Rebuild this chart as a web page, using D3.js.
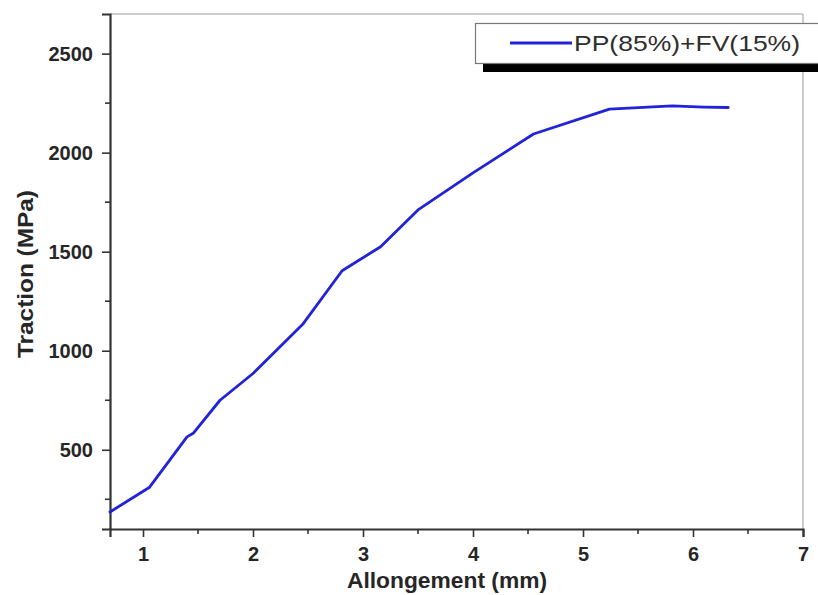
<!DOCTYPE html>
<html>
<head>
<meta charset="utf-8">
<script src="https://cdn.jsdelivr.net/npm/d3@7"></script>
<style>
html,body{margin:0;padding:0;background:#fff;}
svg{display:block;font-family:"Liberation Sans",Arial,sans-serif;}
</style>
</head>
<body>
<svg id="chart" width="818" height="595"></svg>
<script>
// Data
const elongation = [0.70, 1.06, 1.40, 1.46, 1.70, 2.00, 2.45, 2.81, 3.16, 3.50, 4.00, 4.55, 5.24, 5.81, 6.10, 6.32];
const traction   = [186, 311, 565, 585, 750, 885, 1132, 1404, 1525, 1711, 1898, 2094, 2220, 2236, 2230, 2228];
const xTicks = [1, 2, 3, 4, 5, 6, 7];
const yTicks = [500, 1000, 1500, 2000, 2500];
const seriesName = "PP(85%)+FV(15%)";
const xTitle = "Allongement (mm)";
const yTitle = "Traction (MPa)";

const svg = d3.select("#chart");
const L = 110, R = 803, T = 14, B = 529;
const x = d3.scaleLinear().domain([0.7, 7]).range([L, R]);
const y = d3.scaleLinear().domain([100, 2700]).range([B, T]);

// frame (top & right light)
svg.append("line").attr("x1", L).attr("x2", R).attr("y1", T).attr("y2", T)
  .attr("stroke", "#bdbdbd").attr("stroke-width", 1.5);
svg.append("line").attr("x1", R).attr("x2", R).attr("y1", T).attr("y2", B)
  .attr("stroke", "#bdbdbd").attr("stroke-width", 1.5);

// x axis
const xMinor = d3.range(1.5, 7, 1);
const gx = svg.append("g").attr("transform", `translate(0,${B})`);
gx.call(d3.axisBottom(x).tickValues(xTicks).tickSize(8).tickPadding(10).tickFormat(d3.format("d")));
gx.selectAll("text").attr("font-size", 20).attr("font-weight", "bold").attr("fill", "#262626")
  .attr("font-family", "'Liberation Sans',Arial,sans-serif");
gx.selectAll("line").attr("stroke", "#333").attr("stroke-width", 1.6);
gx.select(".domain").attr("stroke", "#333").attr("stroke-width", 2.2);
gx.selectAll(".minor").data(xMinor).enter().append("line").attr("class", "minor")
  .attr("x1", d => x(d)).attr("x2", d => x(d)).attr("y1", 0).attr("y2", 5)
  .attr("stroke", "#333").attr("stroke-width", 1.6);

// y axis
const yMinor = d3.range(250, 2700, 500);
const gy = svg.append("g").attr("transform", `translate(${L},0)`);
gy.call(d3.axisLeft(y).tickValues(yTicks).tickSize(8).tickPadding(9).tickFormat(d3.format("d")));
gy.selectAll("text").attr("font-size", 20).attr("font-weight", "bold").attr("fill", "#262626")
  .attr("font-family", "'Liberation Sans',Arial,sans-serif");
gy.selectAll("line").attr("stroke", "#333").attr("stroke-width", 1.6);
gy.select(".domain").attr("stroke", "#333").attr("stroke-width", 2.2);
gy.selectAll(".minor").data(yMinor).enter().append("line").attr("class", "minor")
  .attr("x1", 0).attr("x2", -5).attr("y1", d => y(d)).attr("y2", d => y(d))
  .attr("stroke", "#333").attr("stroke-width", 1.6);

// axis titles
svg.append("text").attr("x", 447).attr("y", 588).attr("text-anchor", "middle")
  .attr("font-size", 22).attr("font-weight", "bold").attr("fill", "#262626")
  .attr("textLength", 200).attr("lengthAdjust", "spacingAndGlyphs").text(xTitle);
svg.append("text").attr("transform", "translate(33,274) rotate(-90)").attr("text-anchor", "middle")
  .attr("font-size", 22).attr("font-weight", "bold").attr("fill", "#262626")
  .attr("textLength", 168).attr("lengthAdjust", "spacingAndGlyphs").text(yTitle);

// data line
const pts = elongation.map((e, i) => [e, traction[i]]);
svg.append("path").datum(pts)
  .attr("d", d3.line().x(d => x(d[0])).y(d => y(d[1])))
  .attr("fill", "none").attr("stroke", "#2222d8").attr("stroke-width", 2.8)
  .attr("stroke-linejoin", "round").attr("stroke-linecap", "round");

// legend
const lg = svg.append("g");
lg.append("rect").attr("x", 483).attr("y", 63).attr("width", 340).attr("height", 9).attr("fill", "#000");
lg.append("rect").attr("x", 475.5).attr("y", 23.5).attr("width", 345).attr("height", 40)
  .attr("fill", "#fff").attr("stroke", "#777").attr("stroke-width", 1.2);
lg.append("line").attr("x1", 510).attr("x2", 572).attr("y1", 43).attr("y2", 43)
  .attr("stroke", "#2222d8").attr("stroke-width", 2.8);
lg.append("text").attr("x", 574).attr("y", 51).attr("font-size", 22).attr("fill", "#2e2e2e")
  .attr("textLength", 226).attr("lengthAdjust", "spacingAndGlyphs").text(seriesName);
</script>
</body>
</html>
